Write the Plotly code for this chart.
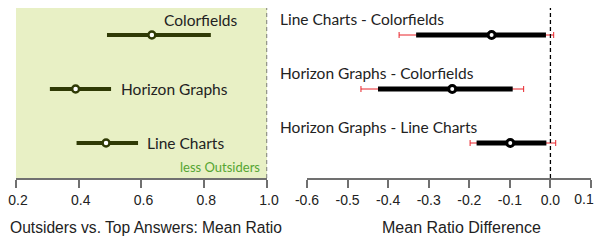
import plotly.graph_objects as go

# Left panel: mean ratio of outsiders vs top answers
left_names = ["Colorfields", "Horizon Graphs", "Line Charts"]
left_mean = [0.633, 0.390, 0.487]
left_lo = [0.490, 0.308, 0.393]
left_hi = [0.821, 0.503, 0.589]
left_pos = [3, 2, 1]

# Right panel: pairwise differences
right_names = ["Line Charts - Colorfields", "Horizon Graphs - Colorfields", "Horizon Graphs - Line Charts"]
right_mean = [-0.145, -0.242, -0.099]
right_lo = [-0.331, -0.425, -0.182]
right_hi = [-0.011, -0.093, -0.010]
right_lo95 = [-0.373, -0.467, -0.198]
right_hi95 = [0.008, -0.066, 0.013]
right_pos = [3, 2, 1]

left_ticks = [0.2, 0.4, 0.6, 0.8, 1.0]
right_ticks = [-0.6, -0.5, -0.4, -0.3, -0.2, -0.1, 0.0, 0.1]

olive = "#2f3a05"
label_font = dict(family="Lato, Open Sans, sans-serif", size=15.5, color="#222222")

fig = go.Figure()

# left: thick interval + marker
fig.add_trace(go.Scatter(
    x=left_mean, y=left_pos, mode="markers", xaxis="x", yaxis="y",
    error_x=dict(type="data", symmetric=False,
                 array=[h - m for h, m in zip(left_hi, left_mean)],
                 arrayminus=[m - l for m, l in zip(left_mean, left_lo)],
                 color=olive, thickness=4, width=0),
    marker=dict(symbol="circle", size=7, color="white", line=dict(color=olive, width=2.5)),
    showlegend=False, hoverinfo="skip"))

# right: thin red 95% whiskers
fig.add_trace(go.Scatter(
    x=right_mean, y=right_pos, mode="markers", xaxis="x2", yaxis="y2",
    error_x=dict(type="data", symmetric=False,
                 array=[h - m for h, m in zip(right_hi95, right_mean)],
                 arrayminus=[m - l for m, l in zip(right_mean, right_lo95)],
                 color="#e8242a", thickness=1, width=3),
    marker=dict(size=1, opacity=0),
    showlegend=False, hoverinfo="skip"))
# right: thick interval + marker
fig.add_trace(go.Scatter(
    x=right_mean, y=right_pos, mode="markers", xaxis="x2", yaxis="y2",
    error_x=dict(type="data", symmetric=False,
                 array=[h - m for h, m in zip(right_hi, right_mean)],
                 arrayminus=[m - l for m, l in zip(right_mean, right_lo)],
                 color="black", thickness=5, width=0),
    marker=dict(symbol="circle", size=7, color="white", line=dict(color="black", width=3)),
    showlegend=False, hoverinfo="skip"))
# invisible helper so the overlaying label axis (x3) gets drawn
fig.add_trace(go.Scatter(
    x=[right_ticks[-1]], y=[right_pos[-1]], mode="markers", xaxis="x3", yaxis="y2",
    marker=dict(size=1, opacity=0), showlegend=False, hoverinfo="skip"))

# page has an 8px body margin: size the figure to fit the window exactly
W, H = 586, 229
yr = [0.352, 3.5]
eps = 0.001
tick_font = dict(family="Liberation Sans, Arial, sans-serif", size=14, color="#222222")
axis_common = dict(showgrid=False, zeroline=False, showline=True, linecolor="#707070", linewidth=1.5,
                   ticks="outside", ticklen=8, tickwidth=1.5, tickcolor="#707070", automargin=False,
                   ticklabeloverflow="allow", tickfont=tick_font)

right_text = [f"{v:.1f}" for v in right_ticks]
last_label = right_text[-1]
right_text[-1] = ""

lpx = 251 / 0.8   # px per unit, left axis
rpx = 284 / 0.7   # px per unit, right axis
fig.update_layout(
    width=W, height=H,
    margin=dict(l=0, r=0, t=0, b=59, autoexpand=False),
    paper_bgcolor="white", plot_bgcolor="white",
    xaxis=dict(domain=[(8 - eps * lpx) / W, (259 + eps * lpx) / W], range=[0.2 - eps, 1.0 + eps],
               tickvals=left_ticks, ticktext=[f"{v:.1f}" for v in left_ticks], anchor="y",
               ticklabelshift=2, **axis_common),
    yaxis=dict(domain=[0, 1], range=yr, visible=False, anchor="x", automargin=False),
    xaxis2=dict(domain=[(299 - eps * rpx) / W, (583 + eps * rpx) / W], range=[-0.6 - eps, 0.1 + eps],
                tickvals=right_ticks, ticktext=right_text, anchor="y2", **axis_common),
    yaxis2=dict(domain=[0, 1], range=yr, visible=False, anchor="x2", automargin=False),
    xaxis3=dict(overlaying="x2", anchor="y2", range=[-0.6 - eps, 0.1 + eps], tickvals=[right_ticks[-1]],
                ticktext=[last_label], showgrid=False, zeroline=False, showline=False,
                ticks="outside", ticklen=8, tickwidth=1, tickcolor="rgba(0,0,0,0)", automargin=False,
                ticklabeloverflow="allow", ticklabelshift=-7, tickfont=tick_font),
    shapes=[
        dict(type="rect", xref="x", yref="paper", x0=0.2, x1=1.0, y0=0, y1=1,
             fillcolor="#e8f0c5", line=dict(width=0), layer="below"),
        dict(type="line", xref="x", yref="paper", x0=1.0, x1=1.0, y0=0, y1=1,
             line=dict(color="#6a6a6a", width=1.3, dash="4px,3px")),
        dict(type="line", xref="x2", yref="paper", x0=0.0, x1=0.0, y0=0, y1=1,
             line=dict(color="black", width=1.3, dash="4px,3px")),
    ],
)

# left labels
fig.add_annotation(x=0.789, y=left_pos[0] + 0.28, xref="x", yref="y",
                   text=left_names[0], showarrow=False, xanchor="center", font=label_font)
fig.add_annotation(x=left_hi[1], y=left_pos[1], xref="x", yref="y", xshift=8,
                   text=left_names[1], showarrow=False, xanchor="left", font=label_font)
fig.add_annotation(x=left_hi[2], y=left_pos[2], xref="x", yref="y", xshift=7,
                   text=left_names[2], showarrow=False, xanchor="left", font=label_font)
fig.add_annotation(x=0.985, y=0.556, xref="x", yref="y", text="less Outsiders", showarrow=False,
                   xanchor="right", font=dict(family="Lato, Open Sans, sans-serif", size=13, color="#55a532"))

# right labels
for n, p in zip(right_names, right_pos):
    fig.add_annotation(x=-0.6, y=p + 0.29, xref="x2", yref="y2", xshift=-29, text=n, showarrow=False,
                       xanchor="left", font=label_font)

# axis titles
fig.add_annotation(x=0, y=0, xref="paper", yref="paper", yshift=-49, text="Outsiders vs. Top Answers: Mean Ratio",
                   showarrow=False, xanchor="left", yanchor="middle",
                   font=dict(family="Liberation Sans, Arial, sans-serif", size=15.6, color="#222222"))
fig.add_annotation(x=-0.22, y=0, xref="x2", yref="paper", yshift=-49, text="Mean Ratio Difference",
                   showarrow=False, xanchor="center", yanchor="middle",
                   font=dict(family="Liberation Sans, Arial, sans-serif", size=16, color="#222222"))

fig.write_html("out.html")
